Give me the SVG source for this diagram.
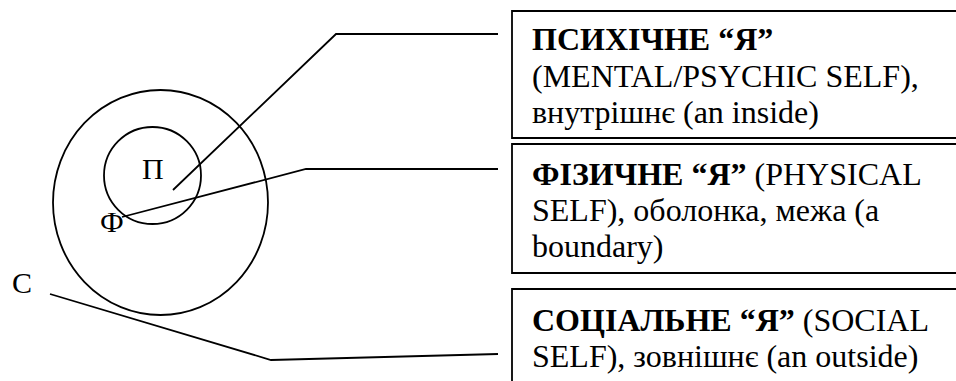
<svg xmlns="http://www.w3.org/2000/svg" width="956" height="381" viewBox="0 0 956 381">
  <style>
    .ln { fill: none; stroke: #000; stroke-width: 1.8; }
    .box { fill: #fff; stroke: #000; stroke-width: 1.8; }
    .t { font-size: 32px; }
    .b { font-weight: bold; }
    .lbl { font-size: 30px; }
  </style>
  <rect width="956" height="381" fill="#fff"/>

  <!-- concentric layers of the self -->
  <g id="outer-circle">
    <ellipse class="ln" cx="160.5" cy="202.5" rx="107.5" ry="112.5"/>
  </g>
  <g id="inner-circle">
    <ellipse class="ln" cx="152.5" cy="175.5" rx="48.5" ry="48.5"/>
  </g>

  <!-- leader lines -->
  <g id="connectors">
    <polyline class="ln" points="173,190 336,34 498,34"/>
    <polyline class="ln" points="122,217 306,169 498,169"/>
    <polyline class="ln" points="50,294 271,360 498,354"/>
  </g>

  <g font-family="'Liberation Serif', 'Times New Roman', serif" fill="#000">
    <g id="label-p"><text class="lbl" x="142" y="179">П</text></g>
    <g id="label-f"><text class="lbl" x="100" y="232">Ф</text></g>
    <g id="label-s"><text class="lbl" x="12" y="293">С</text></g>

    <g id="box-psychic">
      <path class="box" d="M958,11 H512 V138 H958"/>
      <text class="t" x="532" y="50"><tspan class="b">ПСИХІЧНЕ “Я”</tspan></text>
      <text class="t" x="532" y="87">(MENTAL/PSYCHIC SELF),</text>
      <text class="t" x="532" y="123">внутрішнє (an inside)</text>
    </g>

    <g id="box-physical">
      <path class="box" d="M958,144 H512 V273 H958"/>
      <text class="t" x="532" y="185"><tspan class="b">ФІЗИЧНЕ “Я”</tspan> (PHYSICAL</text>
      <text class="t" x="532" y="221">SELF), оболонка, межа (a</text>
      <text class="t" x="532" y="257">boundary)</text>
    </g>

    <g id="box-social">
      <path class="box" d="M958,289 H512 V383"/>
      <text class="t" x="532" y="331"><tspan class="b">СОЦІАЛЬНЕ “Я”</tspan> (SOCIAL</text>
      <text class="t" x="532" y="367">SELF), зовнішнє (an outside)</text>
    </g>
  </g>
</svg>
